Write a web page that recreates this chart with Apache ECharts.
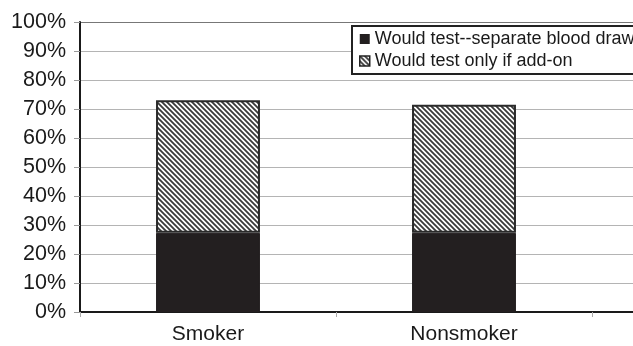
<!DOCTYPE html>
<html>
<head>
<meta charset="utf-8">
<script src="https://cdn.jsdelivr.net/npm/echarts@6/dist/echarts.min.js"></script>
<style>html,body{margin:0;padding:0;background:#fff;}#c{width:633px;height:346px;}</style>
</head>
<body>
<div id="c"></div>
<script>
var categories = ['Smoker', 'Nonsmoker'];
var separateDraw = [27.3, 27.3];
var onlyAddOn = [45.7, 44.2];
var seriesNames = ['Would test--separate blood draw', 'Would test only if add-on'];

function makeHatch() {
  var s = 5;
  var cv = document.createElement('canvas');
  cv.width = s; cv.height = s;
  var ctx = cv.getContext('2d');
  ctx.fillStyle = '#fff';
  ctx.fillRect(0, 0, s, s);
  ctx.strokeStyle = '#3a3a3a';
  ctx.lineWidth = 1.8;
  ctx.beginPath();
  ctx.moveTo(-1, -1); ctx.lineTo(s + 1, s + 1);
  ctx.moveTo(-1, s - 1); ctx.lineTo(1, s + 1);
  ctx.moveTo(s - 1, -1); ctx.lineTo(s + 1, 1);
  ctx.stroke();
  return cv;
}
var hatch = { image: makeHatch(), repeat: 'repeat' };

var splitColors = [];
for (var i = 0; i <= 10; i++) splitColors.push(i === 10 ? '#777' : '#b4b4b4');

var chart = echarts.init(document.getElementById('c'), null, { renderer: 'canvas' });
chart.setOption({
  animation: false,
  backgroundColor: '#fff',
  textStyle: { fontFamily: 'Liberation Sans, Arial, sans-serif' },
  grid: [
    { left: 80, right: 41, top: 22, bottom: 34 },
    { left: 592, right: 0, top: 22, bottom: 34 }
  ],
  legend: {
    left: 352, top: 26,
    orient: 'vertical',
    backgroundColor: '#fff',
    borderColor: '#222',
    borderWidth: 2,
    borderRadius: 0,
    padding: [3, 30, 3, 7],
    itemWidth: 10, itemHeight: 10,
    itemGap: 2,
    itemTextGap: 5,
    textStyle: { fontSize: 18, color: '#1a1a1a', lineHeight: 20, fontFamily: 'Liberation Sans, Arial, sans-serif' },
    data: [
      { name: seriesNames[0], icon: 'rect', itemStyle: { color: '#231f20', borderWidth: 0 } },
      { name: seriesNames[1], icon: 'rect', itemStyle: { color: hatch, borderColor: '#222', borderWidth: 1.5 } }
    ]
  },
  xAxis: [
    {
      type: 'category', data: categories, gridIndex: 0,
      axisLine: { show: true, lineStyle: { color: '#1a1a1a', width: 2 } },
      axisTick: { show: true, length: 5, lineStyle: { color: '#aaa' } },
      axisLabel: { fontSize: 21, color: '#1a1a1a', margin: 12 }
    },
    {
      type: 'value', gridIndex: 1, min: 0, max: 1,
      axisLine: { show: true, lineStyle: { color: '#1a1a1a', width: 2 } },
      axisTick: { show: false }, axisLabel: { show: false }, splitLine: { show: false }
    }
  ],
  yAxis: [
    {
      type: 'value', gridIndex: 0, min: 0, max: 100, interval: 10,
      axisLine: { show: true, lineStyle: { color: '#1a1a1a', width: 2 } },
      axisTick: { show: true, length: 6, lineStyle: { color: '#999' } },
      axisLabel: { formatter: '{value}%', fontSize: 21.5, color: '#1a1a1a', margin: 14 },
      splitLine: { show: true, lineStyle: { color: splitColors, width: 1.2 } }
    },
    {
      type: 'value', gridIndex: 1, min: 0, max: 100, interval: 10,
      axisLine: { show: false }, axisTick: { show: false }, axisLabel: { show: false },
      splitLine: { show: true, lineStyle: { color: splitColors, width: 1.2 } }
    }
  ],
  series: [
    {
      name: seriesNames[0], type: 'bar', stack: 'a', data: separateDraw,
      barWidth: '40.6%', xAxisIndex: 0, yAxisIndex: 0,
      itemStyle: { color: '#231f20', borderColor: '#231f20', borderWidth: 1 }
    },
    {
      name: seriesNames[1], type: 'bar', stack: 'a', data: onlyAddOn,
      barWidth: '40.6%', xAxisIndex: 0, yAxisIndex: 0,
      itemStyle: { color: hatch, borderColor: '#2a2a2a', borderWidth: 2 }
    },
    {
      type: 'scatter', xAxisIndex: 1, yAxisIndex: 1, data: [], silent: true
    }
  ]
});
</script>
</body>
</html>
